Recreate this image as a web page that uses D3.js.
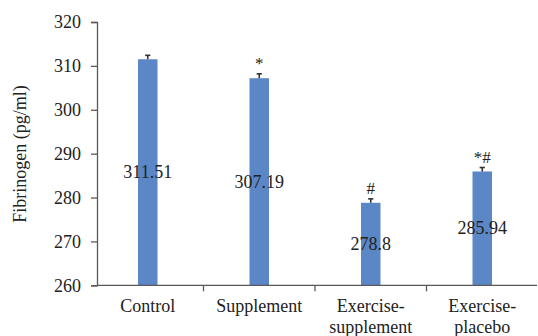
<!DOCTYPE html>
<html>
<head>
<meta charset="utf-8">
<script src="https://cdn.jsdelivr.net/npm/d3@7"></script>
<style>
  html, body { margin: 0; padding: 0; background: #fff; }
  svg { display: block; }
  text { font-family: "Liberation Serif", "Times New Roman", serif; fill: #222; }
</style>
</head>
<body>
<svg id="chart" width="538" height="336"></svg>
<script>
const categories = ["Control", "Supplement", "Exercise-supplement", "Exercise-placebo"];
const categoryLines = [["Control"], ["Supplement"], ["Exercise-", "supplement"], ["Exercise-", "placebo"]];
const values = [311.51, 307.19, 278.8, 285.94];
const errors = [0.9, 1.0, 0.9, 0.9];
const marks = ["", "*", "#", "*#"];
const yTicks = [260, 270, 280, 290, 300, 310, 320];

const svg = d3.select("#chart");
const axisX0 = 97, axisX1 = 537;

const x = d3.scaleBand().domain(categories).range([92, 538]).paddingInner(0).paddingOuter(0);
const y = d3.scaleLinear().domain([260, 320]).range([285.3, 22]);

const barW = 19.5;
const axisColor = "#595959";

// y axis
const yAxis = d3.axisLeft(y).tickValues(yTicks).tickSize(6).tickPadding(10).tickFormat(d3.format("d"));
const gy = svg.append("g").attr("transform", `translate(${axisX0},0)`).call(yAxis);
gy.select(".domain").attr("stroke", axisColor).attr("stroke-width", 1.3);
gy.selectAll(".tick line").attr("stroke", axisColor).attr("stroke-width", 1.3);
gy.selectAll(".tick text").attr("font-size", 18).attr("font-family", "Liberation Serif").attr("fill", "#222");

// y label
svg.append("text")
  .attr("transform", `translate(20,${154}) rotate(-90)`)
  .attr("text-anchor", "middle")
  .attr("dominant-baseline", "central")
  .attr("font-size", 18)
  .text("Fibrinogen (pg/ml)");

// bars
const bars = svg.append("g");
categories.forEach((c, i) => {
  const cx = x(c) + x.bandwidth() / 2;
  bars.append("rect")
    .attr("x", cx - barW / 2)
    .attr("y", y(values[i]))
    .attr("width", barW)
    .attr("height", y(260) - y(values[i]))
    .attr("fill", "#5b87c6");
  // error bar
  const yt = y(values[i] + errors[i]);
  bars.append("line").attr("x1", cx).attr("x2", cx).attr("y1", y(values[i])).attr("y2", yt)
    .attr("stroke", "#333").attr("stroke-width", 1.6);
  bars.append("line").attr("x1", cx - 2.6).attr("x2", cx + 2.6).attr("y1", yt).attr("y2", yt)
    .attr("stroke", "#333").attr("stroke-width", 1.6);
  // value label
  bars.append("text")
    .attr("x", cx)
    .attr("y", (y(values[i]) + y(260)) / 2)
    .attr("text-anchor", "middle")
    .attr("dominant-baseline", "central")
    .attr("font-size", 18)
    .text(String(values[i]));
  if (marks[i]) {
    bars.append("text")
      .attr("x", cx)
      .attr("y", yt - 5)
      .attr("text-anchor", "middle")
      .attr("font-size", 17)
      .attr("fill", "#444")
      .text(marks[i]);
  }
});

// x axis
svg.append("line").attr("x1", axisX0).attr("x2", axisX1).attr("y1", y(260)).attr("y2", y(260))
  .attr("stroke", axisColor).attr("stroke-width", 1.3);
categories.slice(1).forEach(c => {
  svg.append("line").attr("x1", x(c)).attr("x2", x(c)).attr("y1", y(260)).attr("y2", y(260) + 6)
    .attr("stroke", axisColor).attr("stroke-width", 1.3);
});
categories.forEach((c, i) => {
  const cx = x(c) + x.bandwidth() / 2;
  const t = svg.append("text").attr("x", cx).attr("y", 311.5).attr("text-anchor", "middle").attr("font-size", 18);
  categoryLines[i].forEach((line, k) => {
    t.append("tspan").attr("x", cx).attr("dy", k === 0 ? 0 : 21).text(line);
  });
});
</script>
</body>
</html>
